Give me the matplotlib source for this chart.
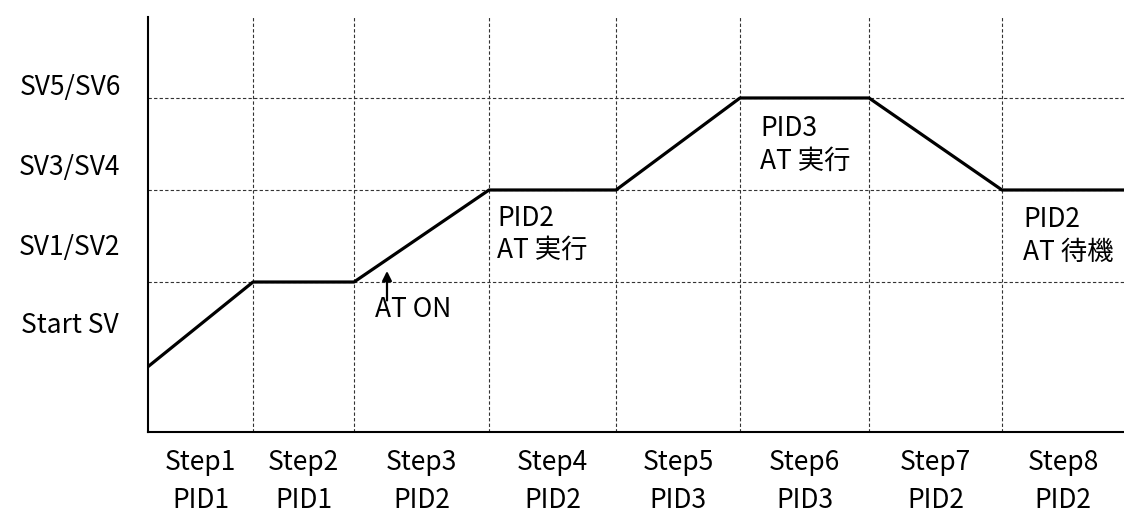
import matplotlib
matplotlib.use("Agg")
import matplotlib.pyplot as plt
import matplotlib.transforms as mtransforms

plt.rcParams["font.family"] = ["Noto Sans CJK JP", "DejaVu Sans"]

# step boundaries (time axis) and setpoint profile
step_names = ["Step1", "Step2", "Step3", "Step4", "Step5", "Step6", "Step7", "Step8"]
step_pids = ["PID1", "PID1", "PID2", "PID2", "PID3", "PID3", "PID2", "PID2"]
step_edges = [0, 105, 206, 341, 468, 592, 721, 854, 976]
profile_sv = [1.08, 2, 2, 3, 3, 4, 4, 3, 3]

sv_levels = [2, 3, 4]
sv_labels = ["Start SV", "SV1/SV2", "SV3/SV4", "SV5/SV6"]
sv_label_pos = [1.53, 2.38, 3.24, 4.11]

FS = 19
W, H = 1124, 516

fig = plt.figure(figsize=(W / 100, H / 100), dpi=100)
ax = fig.add_axes([148 / W, (H - 432) / H, (W - 148) / W, (432 - 17) / H])
ax.set_xlim(step_edges[0], step_edges[-1])
ax.set_ylim(0.37, 4.88)

grid_kw = dict(color="0.2", linewidth=0.8, linestyle=(0, (3, 2)), zorder=1)
for lvl in sv_levels:
    ax.axhline(lvl, **grid_kw)
for edge in step_edges[1:-1]:
    ax.axvline(edge, **grid_kw)

ax.plot(step_edges, profile_sv, color="black", linewidth=2.3, zorder=3)

for side in ["top", "right"]:
    ax.spines[side].set_visible(False)
for side in ["left", "bottom"]:
    ax.spines[side].set_linewidth(1.5)
ax.set_xticks([])
ax.set_yticks([])

# setpoint labels on the left, centred in the margin
trans_y = mtransforms.blended_transform_factory(fig.transFigure, ax.transData)
for label, pos in zip(sv_labels, sv_label_pos):
    ax.text(70 / W, pos, label, transform=trans_y, ha="center", va="center", fontsize=FS)

# step / PID labels under each segment
trans_x = mtransforms.blended_transform_factory(ax.transData, fig.transFigure)
for i, (name, pid) in enumerate(zip(step_names, step_pids)):
    mid = (step_edges[i] + step_edges[i + 1]) / 2
    ax.text(mid, 1 - 463 / H, name, transform=trans_x, ha="center", va="center", fontsize=FS)
    ax.text(mid, 1 - 500 / H, pid, transform=trans_x, ha="center", va="center", fontsize=FS)

# auto-tuning notes
ax.annotate("", xy=(239, 2.12), xytext=(239, 1.80),
            arrowprops=dict(arrowstyle="-|>", color="black", lw=1.6, mutation_scale=14,
                            shrinkA=0, shrinkB=0))
ax.text(227, 1.70, "AT ON", ha="left", va="center", fontsize=FS)
ax.text(349, 2.52, "PID2\nAT 実行", ha="left", va="center", fontsize=FS, linespacing=1.25)
ax.text(612, 3.49, "PID3\nAT 実行", ha="left", va="center", fontsize=FS, linespacing=1.25)
ax.text(875, 2.50, "PID2\nAT 待機", ha="left", va="center", fontsize=FS, linespacing=1.25)

fig.savefig("out.png", dpi=100)
